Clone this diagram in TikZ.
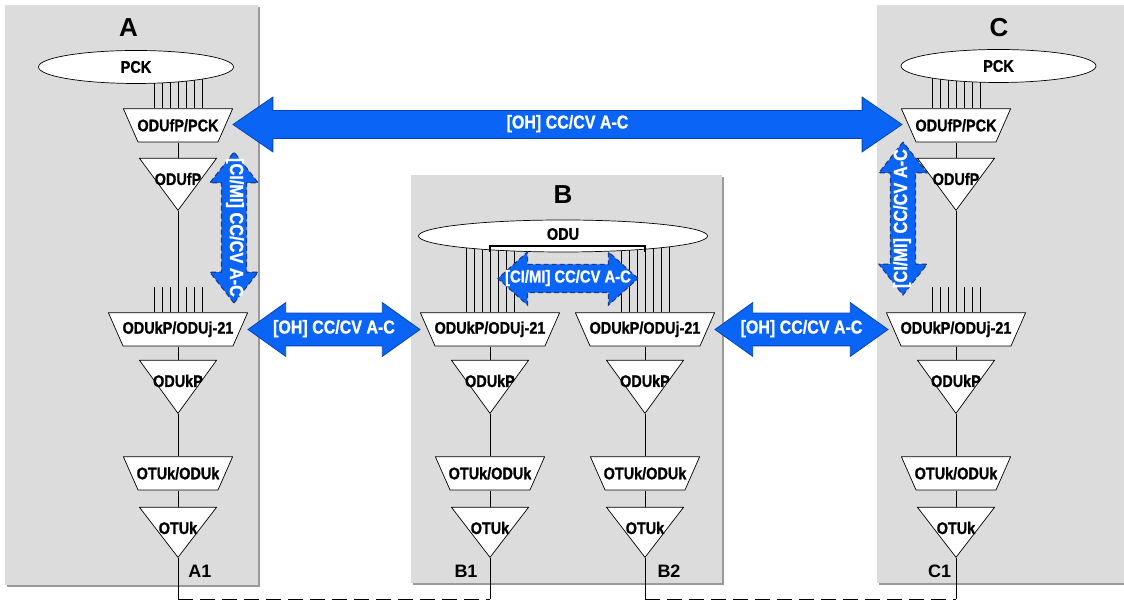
\documentclass[tikz,border=0pt]{standalone}
\usepackage{fontspec}
\setmainfont{Liberation Sans}
\newfontfamily\narrowsans[FakeStretch=0.86, FakeBold=1]{Liberation Sans Bold}
\usetikzlibrary{positioning,shapes.geometric,shapes.arrows}
\definecolor{panelgray}{HTML}{DCDCDC}
\definecolor{panelshade}{HTML}{9A9A9A}
\definecolor{ohblue}{HTML}{0A64F5}
\definecolor{ohedge}{HTML}{0546B0}
\definecolor{cidash}{HTML}{1A3A8A}

\begin{document}
\begin{tikzpicture}[x=1pt,y=1pt,line width=0.7pt,font=\bfseries]
	\tikzstyle{adapt}=[minimum height=34pt, inner sep=0pt, anchor=north, font=\narrowsans\fontsize{16.8}{19}\selectfont,
		path picture={\filldraw[fill=white] ([xshift=0.4pt,yshift=-0.4pt]path picture bounding box.north west) -- ([xshift=-0.4pt,yshift=-0.4pt]path picture bounding box.north east) -- ([xshift=-15pt,yshift=0.4pt]path picture bounding box.south east) -- ([xshift=15pt,yshift=0.4pt]path picture bounding box.south west) -- cycle;}]
	\tikzstyle{term}=[isosceles triangle, shape border rotate=-90, isosceles triangle stretches, draw, fill=white, minimum width=77pt, minimum height=52pt, inner sep=0pt, anchor=north]
	\tikzstyle{pool}=[ellipse, draw, fill=white, minimum height=33pt, inner sep=0pt]
	\tikzstyle{every label}=[font=\narrowsans\fontsize{16.8}{19}\selectfont]
	\tikzstyle{ttext}=[anchor=center, yshift=-21pt]
	\tikzstyle{fat}=[double arrow, fill=ohblue, draw=ohedge, line width=0.8pt, text=white, font=\narrowsans\fontsize{18.6}{21}\selectfont, text height=11pt, text depth=3pt, inner xsep=0pt]
	\tikzstyle{cimi}=[fat, dashed, dash pattern=on 5pt off 3pt, draw=cidash, line width=1.1pt]
	\tikzstyle{box}=[font=\bfseries\fontsize{26}{30}\selectfont]
	\tikzstyle{port}=[font=\bfseries\fontsize{18}{21}\selectfont]
	\tikzstyle{link}=[dash pattern=on 15pt off 7pt]

	\useasboundingbox (0,0) rectangle (1124,601);

	% network elements
	\fill[panelshade] (7,14) rectangle (260,594);
	\fill[panelgray] (5,16) rectangle (258,596);
	\fill[panelshade] (413,16) rectangle (724,424);
	\fill[panelgray] (411,18) rectangle (722,426);
	\fill[panelshade] (879,16) rectangle (1130,594);
	\fill[panelgray] (877,18) rectangle (1130,596);

	\node[box] (nameA) at (128.5,573.5) {A};
	\node[box] (nameB) at (563,406) {B};
	\node[box] (nameC) at (999,573.5) {C};

	% A
	\node[adapt, minimum width=110pt] (fpA) at (178,493) {ODUfP/PCK};
	\node[term, label={[ttext]north:ODUfP}] (ftA) at (178,443) {};
	\node[adapt, minimum width=140pt] (kpA) at (178,289) {ODUkP/ODUj-21};
	\node[term, minimum height=53pt, label={[ttext]north:ODUkP}] (ktA) at (178,241) {};
	\node[adapt, minimum width=110pt] (okA) at (178,145) {OTUk/ODUk};
	\node[term, minimum height=50pt, label={[ttext]north:OTUk}] (otA) at (178,94) {};

	% B
	\node[adapt, minimum width=140pt] (kpB1) at (490,289) {ODUkP/ODUj-21};
	\node[term, minimum height=53pt, label={[ttext]north:ODUkP}] (ktB1) at (490,241) {};
	\node[adapt, minimum width=110pt] (okB1) at (490,145) {OTUk/ODUk};
	\node[term, minimum height=50pt, label={[ttext]north:OTUk}] (otB1) at (490,94) {};
	\node[adapt, minimum width=140pt] (kpB2) at (645,289) {ODUkP/ODUj-21};
	\node[term, minimum height=53pt, label={[ttext]north:ODUkP}] (ktB2) at (645,241) {};
	\node[adapt, minimum width=110pt] (okB2) at (645,145) {OTUk/ODUk};
	\node[term, minimum height=50pt, label={[ttext]north:OTUk}] (otB2) at (645,94) {};

	% C
	\node[adapt, minimum width=110pt] (fpC) at (956,493) {ODUfP/PCK};
	\node[term, label={[ttext]north:ODUfP}] (ftC) at (956,443) {};
	\node[adapt, minimum width=140pt] (kpC) at (956,289) {ODUkP/ODUj-21};
	\node[term, minimum height=53pt, label={[ttext]north:ODUkP}] (ktC) at (956,241) {};
	\node[adapt, minimum width=110pt] (okC) at (956,145) {OTUk/ODUk};
	\node[term, minimum height=50pt, label={[ttext]north:OTUk}] (otC) at (956,94) {};

	% fan of connections
	\foreach \c in {A,C}{
		\foreach \dx in {-24,-16,-8,0,8,16,24}{
			\draw ([xshift=\dx pt]fp\c.north) -- ++(0,41);
			\draw ([xshift=\dx pt]kp\c.north) -- ++(0,25);
		}
	}
	\foreach \c in {B1,B2}{
		\foreach \dx in {-24,-16,-8,0,8,16,24}
			\draw ([xshift=\dx pt]kp\c.north) -- ++(0,76);
	}

	\node[pool, minimum width=195pt, label=center:PCK] (pckA) at (136,534) {};
	\node[pool, minimum width=195pt, label=center:PCK] (pckC) at (998.5,535) {};
	\node[pool, minimum width=289pt, minimum height=32pt, label={[yshift=2pt]center:ODU}] (oduB) at (563,365) {};
	\draw[line width=1.6pt] (kpB1.north |- 0,349) -- (kpB1.north |- 0,355) -- (kpB2.north |- 0,355) -- (kpB2.north |- 0,349);

	\path[draw] (fpA) -- (ftA) (ftA) -- (kpA) (kpA) -- (ktA) (ktA) -- (okA) (okA) -- (otA);
	\path[draw] (kpB1) -- (ktB1) (ktB1) -- (okB1) (okB1) -- (otB1);
	\path[draw] (kpB2) -- (ktB2) (ktB2) -- (okB2) (okB2) -- (otB2);
	\path[draw] (fpC) -- (ftC) (ftC) -- (kpC) (kpC) -- (ktC) (ktC) -- (okC) (okC) -- (otC);

	% fibre between ports
	\draw (otA.apex) -- ++(0,-41) coordinate (gA);
	\draw (otB1.apex) -- ++(0,-41) coordinate (gB1);
	\draw (otB2.apex) -- ++(0,-41) coordinate (gB2);
	\draw (otC.apex) -- ++(0,-41) coordinate (gC);
	\draw[link] (gA) -- (gB1);
	\draw[link] (gB2) -- (gC);

	\node[port] (portA1) at (200,29.5) {A1};
	\node[port] (portB1) at (466,29.5) {B1};
	\node[port] (portB2) at (669,29.5) {B2};
	\node[port] (portC1) at (939.5,29.5) {C1};

	% monitoring
	\node[fat, minimum height=669pt, double arrow head extend=13.5pt, double arrow tip angle=69, inner ysep=6.5pt] (ohAC) at (567.5,476.5) {\makebox[0pt]{[OH] CC/CV A-C}};
	\node[fat, minimum height=172pt, double arrow head extend=10.5pt, double arrow tip angle=71, inner ysep=9pt] (ohAB) at (334,271.5) {\makebox[0pt]{[OH] CC/CV A-C}};
	\node[fat, minimum height=173pt, double arrow head extend=10.5pt, double arrow tip angle=71, inner ysep=9pt] (ohBC) at (801.5,271.5) {\makebox[0pt]{[OH] CC/CV A-C}};
	\node[cimi, minimum height=140pt, double arrow head extend=12.5pt, double arrow tip angle=84, inner ysep=6.5pt, font=\narrowsans\fontsize{17.2}{19}\selectfont] (ciB) at (568,322.5) {\makebox[0pt]{[CI/MI] CC/CV A-C}};
	\node[cimi, rotate=-90, minimum height=151pt, double arrow head extend=11.5pt, double arrow tip angle=76, inner ysep=5pt, font=\narrowsans\fontsize{19}{21}\selectfont] (ciA) at (234,373.5) {\makebox[0pt]{[CI/MI] CC/CV A-C}};
	\node[cimi, rotate=90, minimum height=153pt, double arrow head extend=11.5pt, double arrow tip angle=76, inner ysep=5pt, font=\narrowsans\fontsize{19}{21}\selectfont] (ciC) at (903,382.5) {\makebox[0pt]{[CI/MI] CC/CV A-C}};
\end{tikzpicture}
\end{document}
